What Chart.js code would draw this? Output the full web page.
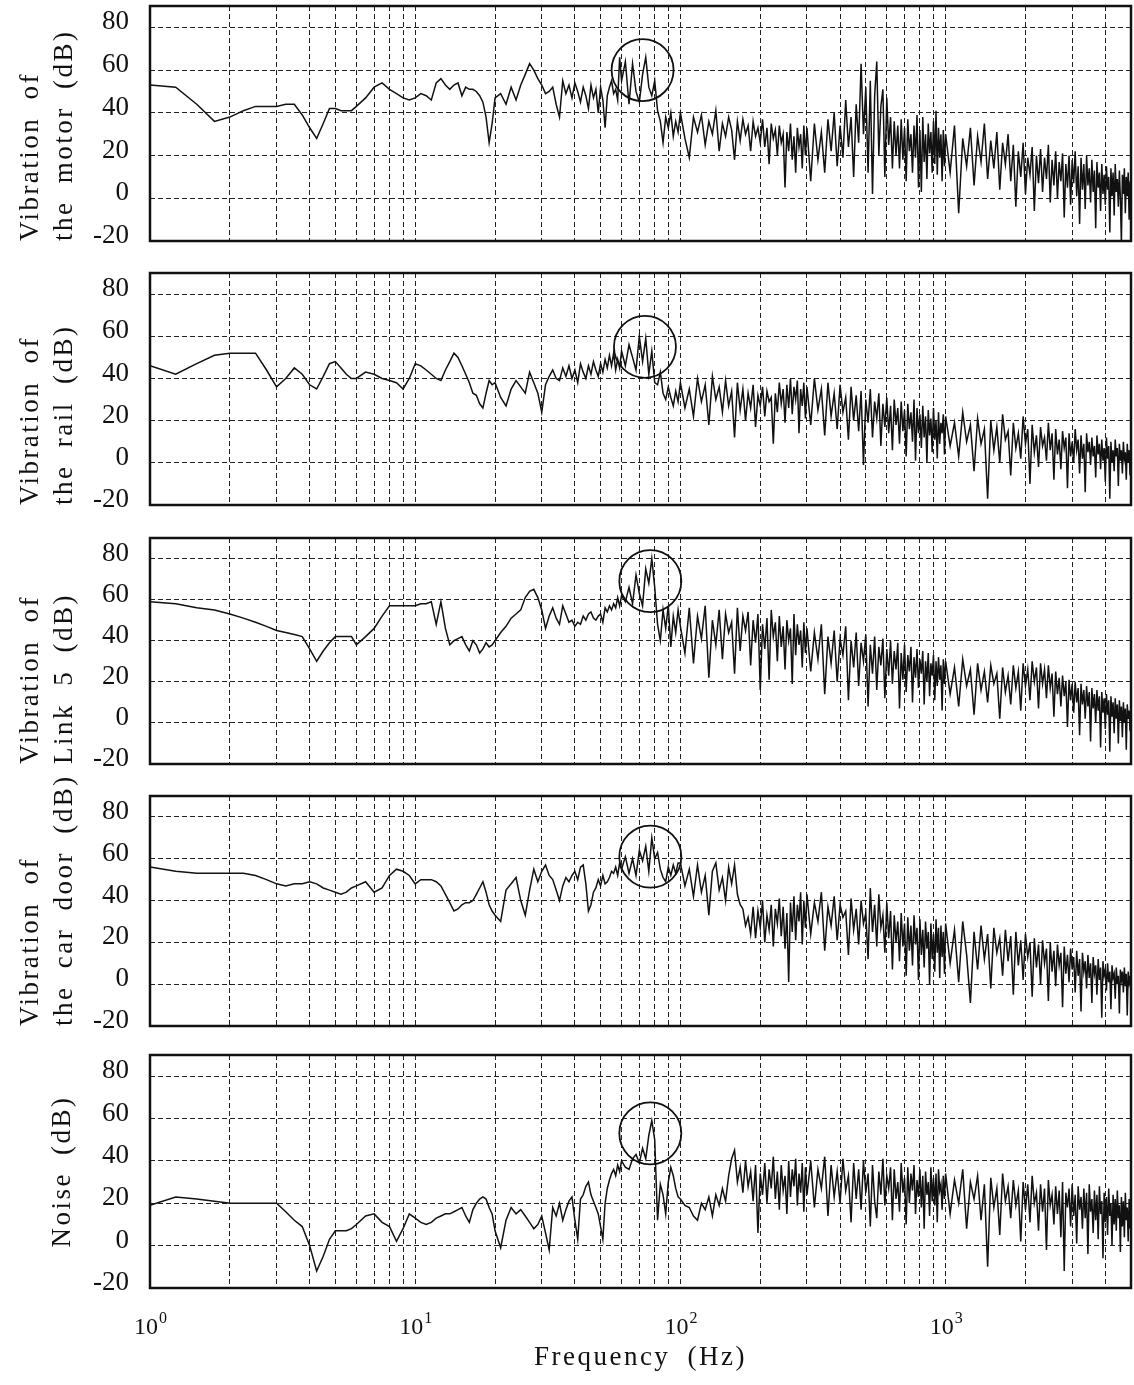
<!DOCTYPE html>
<html>
<head>
<meta charset="utf-8">
<title>Vibration and noise spectra</title>
<script src="https://cdn.jsdelivr.net/npm/chart.js@4.4.0/dist/chart.umd.min.js"></script>
<style>
    body { margin: 0; background: #fff; width: 1134px; height: 1385px; position: relative; overflow: hidden; }
    .panel { position: absolute; left: 0; width: 1134px; }
</style>
</head>
<body>
<script>
// Spectra (dB), all on the same frequency grid (Hz)

const freqHz = [
    1, 1.25, 1.5, 1.75, 2, 2.25, 2.5, 2.75, 3, 3.25, 3.5, 3.75, 4, 4.25, 4.5, 4.75, 5, 5.25, 5.5, 5.75, 6, 6.5, 7, 7.5, 8, 8.5, 9, 9.5,
    10, 10.5, 11, 11.5, 12, 12.5, 13, 13.5, 14, 14.5, 15, 15.5, 16, 16.5, 17, 17.5, 18, 18.5, 19, 19.5,
    20, 21, 22, 23, 24, 25, 26, 27, 28, 29, 30, 31, 32, 33, 34, 35, 36, 37, 38, 39, 40, 41, 42, 43, 44, 45, 46, 47, 48, 49, 50, 51, 52, 53, 54, 55, 56, 57, 58, 59,
    60, 62, 64, 66, 68, 70, 72, 74, 76, 78, 80, 82, 84, 86, 88, 90, 92, 94, 96, 98,
    100, 104, 108, 112, 116, 120, 124, 128, 132, 136, 140, 144, 148, 152, 156, 160, 164, 168, 172, 176, 180, 184, 188, 192, 196,
    200, 204, 208, 212, 216, 220, 224, 228, 232, 236, 240, 244, 248, 252, 256, 260, 264, 268, 272, 276, 280, 284, 288, 292, 296,
    300, 310, 320, 330, 340, 350, 360, 370, 380, 390, 400, 410, 420, 430, 440, 450, 460, 470, 480, 490, 500, 510, 520, 530, 540, 550, 560, 570, 580, 590,
    600, 610, 620, 630, 640, 650, 660, 670, 680, 690, 700, 710, 720, 730, 740, 750, 760, 770, 780, 790, 800, 810, 820, 830, 840, 850, 860, 870, 880, 890, 900, 910, 920, 930, 940, 950, 960, 970, 980, 990,
    1000, 1040, 1080, 1120, 1160, 1200, 1240, 1280, 1320, 1360, 1400, 1440, 1480, 1520, 1560, 1600, 1640, 1680, 1720, 1760, 1800, 1840, 1880, 1920, 1960,
    2000, 2040, 2080, 2120, 2160, 2200, 2240, 2280, 2320, 2360, 2400, 2440, 2480, 2520, 2560, 2600, 2640, 2680, 2720, 2760, 2800, 2840, 2880, 2920, 2960,
    3000, 3040, 3080, 3120, 3160, 3200, 3240, 3280, 3320, 3360, 3400, 3440, 3480, 3520, 3560, 3600, 3640, 3680, 3720, 3760, 3800, 3840, 3880, 3920, 3960,
    4000, 4040, 4080, 4120, 4160, 4200, 4240, 4280, 4320, 4360, 4400, 4440, 4480, 4520, 4560, 4600, 4640, 4680, 4720, 4760, 4800, 4840, 4880, 4920, 4960,
    5000
];

// Vibration of the motor
const motorDb = [
    53, 52, 44, 36, 38, 41, 43, 43, 43, 44, 44, 39, 33, 28, 35, 42, 42, 41, 41, 41, 43, 47, 52, 54, 51, 49, 47, 46,
    47, 49, 48, 46, 54, 56, 53, 51, 53, 54, 48, 52, 51, 51, 50, 48, 45, 38, 26, 35,
    47, 49, 44, 52, 46, 53, 58, 63, 60, 56, 53, 49, 50, 52, 44, 38, 55, 49, 53, 47, 54, 50, 45, 52, 48, 42, 53, 47, 51, 40, 52, 46, 33, 48, 52, 55, 49, 51, 46, 66,
    55, 64, 44, 63, 50, 45, 58, 66, 52, 48, 55, 41, 36, 26, 38, 33, 40, 29, 36, 31,
    40, 28, 19, 38, 31, 39, 25, 36, 30, 41, 22, 35, 29, 38, 32, 18, 36, 27, 37, 30, 34, 22, 36, 29, 33,
    26, 37, 24, 33, 16, 35, 28, 32, 20, 34, 26, 30, 5, 31, 22, 35, 18, 29, 12, 33, 24, 30, 14, 34, 20,
    33, 8, 35, 18, 31, 12, 37, 22, 40, 15, 34, 19, 46, 24, 38, 10, 44, 26, 63, 30, 52, 12, 55, 2, 48, 64, 20, 43, 51, 10,
    47, 25, 38, 14, 36, 20, 34, 14, 37, 18, 33, 8, 37, 22, 30, 12, 34, 19, 39, 5, 32, 3, 38, 17, 30, 9, 35, 21, 31, 12, 36, 16, 41, 11, 33, 19, 30, 8, 32, 15,
    30, 12, 34, -7, 28, 15, 33, 6, 29, 17, 35, 9, 27, 14, 31, 4, 26, 16, 30, 8, 25, -4, 22, 10, 26,
    2, 19, 11, 24, -6, 20, 7, 23, 3, 19, 9, 25, -2, 18, 6, 22, 0, 17, 8, 21, -9, 16, 5, 20, -3,
    18, 7, 22, 1, 15, -12, 19, 4, 16, -5, 20, 6, 14, -2, 18, 3, 13, -14, 17, 5, 12, -6, 16, 2, 11,
    -3, 15, 4, 10, -16, 14, 1, 12, -8, 16, 3, 9, -4, 13, 0, -21, 11, 2, 14, -7, 10, 1, 12, -10, 8,
    3
];

// Vibration of the rail
const railDb = [
    46, 42, 47, 51, 52, 52, 52, 44, 36, 40, 45, 42, 37, 35, 41, 47, 48, 45, 42, 40, 40, 43, 42, 40, 39, 38, 35, 40,
    47, 46, 44, 42, 40, 39, 44, 48, 52, 50, 46, 42, 38, 33, 32, 28, 26, 33, 39, 37,
    38, 31, 27, 35, 39, 36, 33, 43, 38, 33, 24, 37, 41, 44, 40, 39, 45, 41, 46, 40, 44, 38, 47, 43, 40, 46, 42, 48, 44, 41, 47, 43, 49, 45, 51, 46, 52, 44, 49, 45,
    53, 46, 56, 50, 44, 60, 48, 59, 42, 53, 38, 37, 43, 33, 30, 36, 31, 27, 34, 29,
    38, 26, 35, 22, 40, 29, 37, 18, 41, 30, 36, 24, 39, 27, 34, 12, 38, 25, 35, 20, 33, 26, 37, 17, 32,
    27, 36, 22, 34, 29, 31, 9, 33, 24, 38, 28, 35, 19, 37, 26, 40, 23, 36, 30, 39, 14, 35, 27, 38, 21,
    36, 18, 40, 25, 35, 13, 38, 22, 33, 16, 37, 24, 31, 11, 36, 20, 32, 15, 34, -1, 30, 19, 35, 12, 29, 21, 33, 8, 28, 17,
    31, 14, 27, 6, 30, 18, 26, 9, 29, 15, 25, 3, 28, 16, 24, 10, 30, 1, 26, 14, 23, 7, 27, 12, 22, 0, 25, 13, 21, 5, 26, 11, 20, 2, 24, 9, 19, 14, 23, 4,
    22, 8, 19, 3, 24, 10, 18, -4, 21, 9, 16, -17, 20, 6, 17, 0, 23, 11, 15, -6, 19, 7, 14, 2, 22,
    9, 16, -10, 18, 5, 13, -2, 17, 8, 12, 1, 19, 6, 14, -8, 16, 4, 11, -3, 15, 7, 12, -12, 14, 3,
    10, 0, 16, 6, 11, -5, 13, 2, 9, -14, 14, 5, 10, -1, 12, 3, 8, -7, 13, 4, 9, -3, 11, 1, 7,
    -9, 12, 2, 8, -17, 10, 0, 6, -4, 11, 3, 7, -11, 9, 1, 6, -5, 10, 2, 5, -8, 9, 0, 6, -6,
    4
];

// Vibration of Link 5
const link5Db = [
    59, 58, 56, 55, 53, 51, 49, 47, 45, 44, 43, 42, 36, 30, 35, 39, 42, 42, 42, 42, 38, 42, 46, 52, 57, 57, 57, 57,
    57, 58, 58, 59, 48, 59, 46, 38, 40, 41, 42, 38, 35, 40, 38, 34, 36, 39, 37, 38,
    40, 44, 47, 51, 53, 55, 61, 64, 65, 61, 55, 46, 52, 56, 51, 48, 57, 53, 49, 50, 47, 49, 48, 52, 50, 53, 54, 51, 50, 52, 53, 49, 56, 54, 57, 55, 58, 56, 61, 57,
    62, 59, 66, 58, 72, 63, 57, 75, 68, 80, 66, 48, 40, 55, 46, 57, 37, 52, 44, 55,
    47, 34, 56, 29, 52, 41, 57, 22, 50, 38, 55, 31, 53, 44, 49, 24, 56, 35, 52, 45, 54, 28, 50, 39, 53,
    16, 48, 36, 51, 21, 55, 42, 49, 30, 52, 37, 47, 26, 50, 40, 46, 19, 53, 33, 48, 38, 45, 27, 49, 34,
    46, 25, 44, 31, 48, 14, 42, 29, 45, 20, 41, 33, 47, 11, 40, 27, 44, 18, 39, 30, 43, 8, 38, 24, 42, 16, 37, 28, 41, 12,
    36, 23, 40, 19, 35, 26, 39, 7, 34, 21, 38, 15, 33, 25, 37, 10, 32, 22, 36, 17, 31, 24, 35, 9, 30, 20, 34, 13, 29, 23, 33, 11, 30, 18, 32, 21, 28, 6, 31, 19,
    30, 14, 27, 8, 31, 18, 26, 4, 29, 16, 25, 10, 28, 19, 24, 2, 27, 15, 23, 9, 28, 17, 25, 6, 29,
    18, 26, 11, 30, 20, 27, 7, 29, 19, 26, 12, 28, 17, 24, 3, 25, 14, 22, 8, 23, 13, 20, -2, 21, 11,
    19, 5, 20, 10, 17, -6, 19, 9, 16, 2, 18, 8, 15, -9, 17, 7, 14, 0, 16, 6, 13, -12, 15, 5, 12,
    -3, 14, 4, 11, -14, 13, 3, 10, -5, 12, 2, 9, -10, 11, 1, 8, -7, 10, 0, 7, -13, 9, 2, 6, -4,
    8
];

// Vibration of the car door
const carDoorDb = [
    56, 54, 53, 53, 53, 53, 52, 50, 48, 47, 48, 48, 49, 48, 46, 45, 44, 43, 44, 46, 47, 49, 44, 46, 52, 55, 54, 52,
    48, 50, 50, 50, 49, 47, 43, 39, 35, 36, 38, 39, 39, 40, 43, 46, 49, 44, 38, 35,
    33, 30, 45, 48, 51, 40, 33, 45, 55, 49, 54, 57, 52, 50, 45, 40, 47, 51, 49, 52, 54, 50, 56, 57, 48, 35, 38, 44, 46, 50, 47, 52, 48, 49, 51, 54, 53, 56, 52, 58,
    55, 61, 53, 60, 52, 64, 59, 66, 54, 70, 60, 63, 55, 51, 49, 56, 52, 57, 53, 58,
    58, 47, 55, 42, 57, 44, 52, 33, 54, 58, 45, 51, 40, 56, 48, 57, 43, 38, 36, 28, 32, 24, 37, 22, 35,
    27, 40, 20, 33, 26, 38, 18, 36, 29, 41, 23, 37, 17, 34, 1, 39, 25, 42, 21, 38, 30, 44, 19, 40, 27,
    43, 24, 39, 30, 44, 16, 37, 28, 42, 21, 38, 32, 35, 14, 41, 26, 36, 19, 40, 29, 34, 12, 46, 25, 38, 18, 43, 27, 33, 15,
    39, 22, 35, 7, 33, 20, 30, 11, 34, 18, 29, 4, 32, 16, 28, 9, 33, 19, 27, 2, 31, 14, 26, 8, 30, 17, 25, 0, 29, 12, 24, 6, 31, 15, 27, 3, 28, 13, 25, 5,
    29, 10, 26, 1, 30, 14, -9, 25, 7, 28, 12, 24, -2, 27, 15, 22, 4, 26, 11, 23, -5, 25, 9, 21, 2,
    24, 13, 20, -6, 22, 8, 19, 0, 21, 10, 17, -8, 20, 6, 16, -1, 19, 9, 15, -11, 18, 5, 14, 1, 17,
    7, 13, -4, 16, 4, 12, -13, 15, 6, 11, -2, 14, 3, 10, -9, 13, 5, 9, -5, 12, 2, 8, -16, 11, 4,
    7, -3, 10, 1, 6, -12, 9, 3, 5, -7, 8, 0, 4, -14, 7, 2, 6, -4, 8, -1, 5, -15, 6, 1, 4,
    -6
];

// Noise
const noiseDb = [
    19, 23, 22, 21, 20, 20, 20, 20, 20, 16, 12, 9, 0, -12, -5, 3, 7, 7, 7, 8, 10, 14, 15, 11, 9, 2, 8, 15,
    13, 11, 10, 11, 13, 14, 15, 15, 16, 17, 18, 14, 11, 17, 20, 22, 23, 22, 18, 15,
    7, -1, 12, 18, 15, 17, 14, 11, 8, 10, 14, 6, -2, 18, 14, 20, 12, 17, 21, 23, 12, 3, 22, 24, 28, 30, 24, 21, 18, 15, 9, 3, 20, 27, 31, 34, 36, 33, 38, 35,
    40, 37, 36, 41, 43, 39, 46, 41, 52, 59, 50, 12, 29, 24, 15, 30, 37, 33, 27, 23,
    22, 19, 18, 14, 12, 20, 17, 23, 14, 24, 19, 27, 21, 33, 41, 45, 30, 37, 25, 40, 28, 35, 21, 38, 6,
    34, 24, 39, 20, 36, 27, 42, 22, 35, 17, 38, 26, 33, 15, 40, 23, 36, 28, 41, 19, 34, 25, 39, 16, 37,
    24, 40, 18, 36, 27, 42, 14, 38, 23, 35, 20, 41, 26, 33, 11, 39, 22, 36, 17, 40, 25, 34, 9, 38, 21, 13, 35, 24, 41, 19,
    33, 27, 37, 12, 36, 22, 30, 16, 39, 25, 32, 10, 37, 20, 34, 26, 38, 15, 31, 23, 36, 18, 33, 8, 35, 24, 30, 14, 37, 21, 32, 19, 34, 11, 36, 26, 29, 17, 33, 22,
    34, 15, 31, 20, 36, 8, 30, 22, 33, 12, 29, -10, 32, 18, 27, 5, 34, 21, 28, 13, 31, 19, 26, 2, 30,
    17, 29, 11, 33, 20, 25, 7, 29, 16, 27, -2, 31, 19, 24, 10, 28, 15, 26, 4, 30, -12, 25, 18, 27, 9,
    29, 14, 24, 1, 28, 17, 23, 8, 27, 13, 25, -4, 29, 16, 22, 6, 26, 12, 24, 3, 28, 15, 21, -6, 25,
    11, 23, 5, 27, 14, 20, 0, 24, 10, 22, 7, 26, 13, 19, -3, 23, 9, 21, 4, 25, 12, 18, 2, 22, 8,
    20
];

// Axis titles of the five panels
const panelTitles = [
    ['Vibration of', 'the motor (dB)'],
    ['Vibration of', 'the rail (dB)'],
    ['Vibration of', 'Link 5 (dB)'],
    ['Vibration of', 'the car door (dB)'],
    'Noise (dB)'
];

// Circled peak in each panel (centre)
const circleHz = [72, 73.5, 77, 77, 77];
const circleDb = [60, 55, 69, 61, 53];

// Ticks
const xGridHz = [1, 2, 3, 4, 5, 6, 7, 8, 9, 10, 20, 30, 40, 50, 60, 70, 80, 90,
    100, 200, 300, 400, 500, 600, 700, 800, 900, 1000, 2000, 3000, 4000, 5000];
const decadeHz = [1, 10, 100, 1000];
const decadeExp = ['0', '1', '2', '3'];
const yLabelDb = [-20, 0, 20, 40, 60, 80];

const spectra = [motorDb, railDb, link5Db, carDoorDb, noiseDb];

// Plot area top / bottom of each panel on the page
const panelBox = [[6, 241], [273, 505], [538, 764], [796, 1026], [1055, 1288]];

const serif = "'Liberation Serif', 'Times New Roman', serif";
const ink = '#111';

// Heavy frame round each plot
const framePlugin = {
    id: 'frame',
    afterDraw(chart) {
        const { ctx, chartArea: a } = chart;
        ctx.save();
        ctx.lineWidth = 2.5;
        ctx.strokeStyle = ink;
        ctx.strokeRect(a.left, a.top, a.right - a.left, a.bottom - a.top);
        ctx.restore();
    }
};

// The scanned axis titles are widely spaced; ticks are not
const spacedTitlePlugin = {
    id: 'spacedTitles',
    beforeDraw(chart) {
        Object.values(chart.scales).forEach((scale) => {
            if (scale._spaced) return;
            const drawTitle = scale.drawTitle;
            scale.drawTitle = function () {
                const ctx = this.ctx;
                ctx.save();
                ctx.letterSpacing = '2.5px';
                ctx.wordSpacing = '8px';
                drawTitle.call(this);
                ctx.restore();
            };
            scale._spaced = true;
        });
    }
};

// 10^n labels under the last panel, exponent raised
const decadeLabelPlugin = {
    id: 'decadeLabels',
    afterDraw(chart) {
        const { ctx, chartArea } = chart;
        const x = chart.scales.x;
        const base = chartArea.bottom + 46;
        ctx.save();
        ctx.fillStyle = ink;
        ctx.textAlign = 'left';
        ctx.textBaseline = 'alphabetic';
        decadeHz.forEach((v, k) => {
            const px = x.getPixelForValue(v);
            ctx.font = '24px ' + serif;
            const wBase = ctx.measureText('10').width;
            ctx.font = '16px ' + serif;
            const wExp = ctx.measureText(decadeExp[k]).width;
            const left = px - (wBase + wExp) / 2;
            ctx.font = '24px ' + serif;
            ctx.fillText('10', left, base);
            ctx.font = '16px ' + serif;
            ctx.fillText(decadeExp[k], left + wBase + 1, base - 11);
        });
        ctx.restore();
    }
};

spectra.forEach((values, i) => {
    const last = i === spectra.length - 1;
    const [top, bottom] = panelBox[i];
    const padTop = 40;
    const canvasTop = top - padTop;
    const height = last ? 1385 - canvasTop : bottom - top + padTop + 16;

    const wrap = document.createElement('div');
    wrap.className = 'panel';
    wrap.style.top = canvasTop + 'px';
    wrap.style.height = height + 'px';
    const canvas = document.createElement('canvas');
    wrap.appendChild(canvas);
    document.body.appendChild(wrap);

    const points = freqHz.map((f, k) => ({ x: f, y: values[k] }));

    new Chart(canvas, {
        type: 'line',
        data: {
            datasets: [
                {
                    data: points,
                    borderColor: ink,
                    borderWidth: 1.5,
                    pointRadius: 0,
                    tension: 0,
                    fill: false
                },
                {
                    data: [{ x: circleHz[i], y: circleDb[i] }],
                    showLine: false,
                    pointRadius: 31,
                    pointHoverRadius: 31,
                    pointBorderWidth: 1.8,
                    pointBorderColor: ink,
                    pointBackgroundColor: 'rgba(0,0,0,0)',
                    clip: false
                }
            ]
        },
        options: {
            responsive: true,
            maintainAspectRatio: false,
            animation: false,
            events: [],
            layout: {
                autoPadding: false,
                padding: { top: padTop, right: 3, bottom: last ? 0 : 16, left: 0 }
            },
            plugins: {
                legend: { display: false },
                tooltip: { enabled: false }
            },
            scales: {
                x: {
                    type: 'logarithmic',
                    min: 1,
                    max: 5000,
                    afterBuildTicks: (scale) => {
                        scale.ticks = xGridHz.map(v => ({ value: v }));
                    },
                    afterFit: (scale) => {
                        scale.height = last ? 1385 - bottom : 0;
                    },
                    grid: { color: '#222', lineWidth: 1, drawTicks: false },
                    border: { display: false, dash: [5, 3] },
                    ticks: { display: false },
                    title: {
                        display: last,
                        text: 'Frequency (Hz)',
                        color: ink,
                        font: { family: serif, size: 27 },
                        padding: { top: 0, bottom: 11 }
                    }
                },
                y: {
                    min: -20,
                    max: 90,
                    afterFit: (scale) => {
                        // fixed width, and no extra room for the end labels
                        scale.width = 150;
                        scale.paddingTop = 0;
                        scale.paddingBottom = 0;
                    },
                    grid: { color: '#222', lineWidth: 1, drawTicks: false },
                    border: { display: false, dash: [5, 3] },
                    ticks: {
                        stepSize: 10,
                        padding: 21,
                        labelOffset: -5,
                        color: ink,
                        font: { family: serif, size: 27 },
                        callback: (v) => yLabelDb.includes(v) ? String(v) : ''
                    },
                    title: {
                        display: true,
                        text: panelTitles[i],
                        align: last ? 'center' : 'start',
                        color: ink,
                        font: { family: serif, size: 27, lineHeight: 1.25 },
                        padding: { top: last ? 46 : 14, bottom: 0 }
                    }
                }
            }
        },
        plugins: last ? [framePlugin, spacedTitlePlugin, decadeLabelPlugin] : [framePlugin, spacedTitlePlugin]
    });
});
</script>
</body>
</html>
